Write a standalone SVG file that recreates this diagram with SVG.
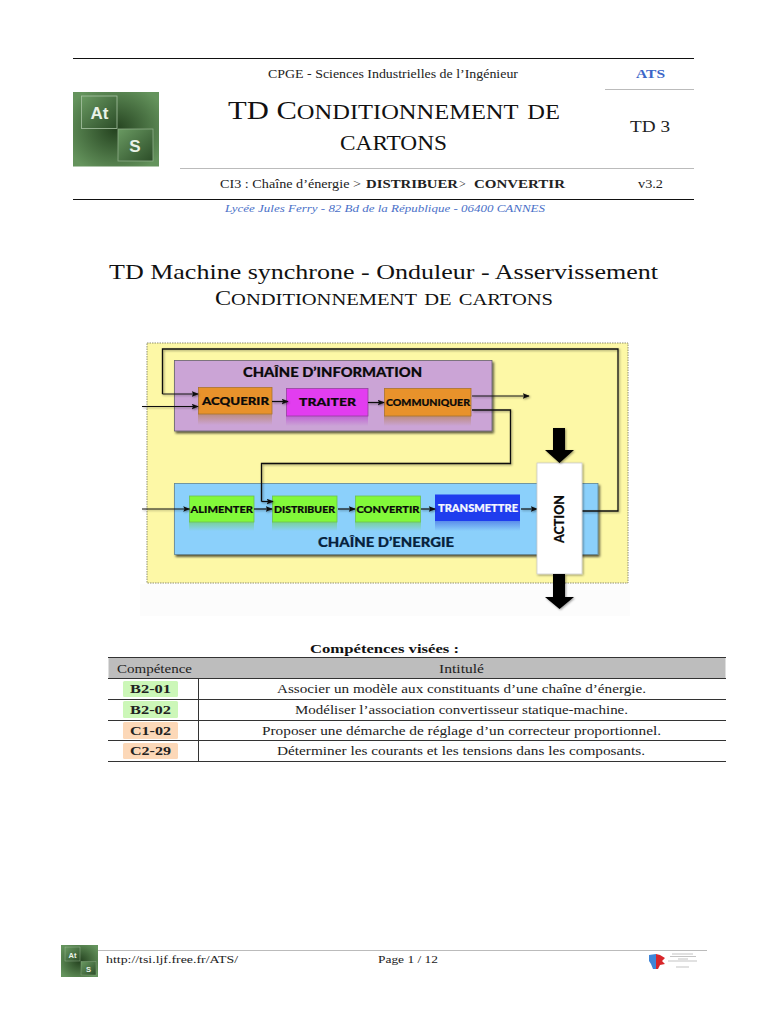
<svg xmlns="http://www.w3.org/2000/svg" width="768" height="1024" viewBox="0 0 768 1024">
<style>
.s{font-family:"Liberation Serif","Times New Roman",serif;fill:#222}
.sc{font-variant:small-caps}
.b{font-weight:bold}
.d{font-family:Lato,"Open Sans",sans-serif;font-weight:900;fill:#0a0a0a;stroke:#0a0a0a;stroke-width:.2}
.c{fill:none;stroke:#111;stroke-width:1.3}
.c2{fill:none;stroke:#111;stroke-width:1.2;marker-end:url(#a)}
.box{stroke-width:.8}
.rule{stroke:#111;stroke-width:1}
.grey{stroke:#bbb;stroke-width:1}
.row{stroke:#333;stroke-width:1}
</style>
<defs>
<marker id="a" viewBox="0 0 10 8" refX="9" refY="4" markerWidth="7" markerHeight="6" markerUnits="userSpaceOnUse" orient="auto"><path d="M0 0L10 4L0 8L2 4Z" fill="#111"/></marker>
<filter id="sh" x="-10%" y="-10%" width="125%" height="130%"><feDropShadow dx="1.5" dy="2" stdDeviation="1.2" flood-color="#000" flood-opacity=".65"/></filter>
<filter id="sh2" x="-20%" y="-20%" width="140%" height="140%"><feDropShadow dx="1" dy="1" stdDeviation="1.2" flood-color="#000" flood-opacity=".4"/></filter>
<radialGradient id="lg" cx=".5" cy=".5" r=".62"><stop offset="0" stop-color="#24421f"/><stop offset="1" stop-color="#64935c"/></radialGradient>
<linearGradient id="t1" x1="0" y1="0" x2="1" y2="1"><stop offset="0" stop-color="#6a9a62"/><stop offset="1" stop-color="#2c4d28"/></linearGradient>
<linearGradient id="ro" x1="0" y1="0" x2="0" y2="1"><stop offset="0" stop-color="#b5825a" stop-opacity=".7"/><stop offset="1" stop-color="#b5825a" stop-opacity="0"/></linearGradient>
<linearGradient id="rm" x1="0" y1="0" x2="0" y2="1"><stop offset="0" stop-color="#b63fd0" stop-opacity=".6"/><stop offset="1" stop-color="#b63fd0" stop-opacity="0"/></linearGradient>
<linearGradient id="rg" x1="0" y1="0" x2="0" y2="1"><stop offset="0" stop-color="#72d27c" stop-opacity=".8"/><stop offset="1" stop-color="#72d27c" stop-opacity="0"/></linearGradient>
<linearGradient id="rb" x1="0" y1="0" x2="0" y2="1"><stop offset="0" stop-color="#3a60e0" stop-opacity=".6"/><stop offset="1" stop-color="#3a60e0" stop-opacity="0"/></linearGradient>
</defs>
<rect width="768" height="1024" fill="#fff"/>

<g id="header">
<line class="rule" x1="73" y1="58.500" x2="694" y2="58.500"/>
<line class="rule" x1="73" y1="199.500" x2="694" y2="199.500"/>
<line class="grey" x1="180" y1="168.500" x2="694" y2="168.500"/>
<line class="grey" x1="605" y1="89.500" x2="694" y2="89.500"/>
<text class="s" x="268" y="78" font-size="12" textLength="250" lengthAdjust="spacingAndGlyphs">CPGE - Sciences Industrielles de l’Ingénieur</text>
<text class="s b" x="636" y="78" font-size="12" style="fill:#3b66c8" textLength="29" lengthAdjust="spacingAndGlyphs">ATS</text>
<text class="s sc" x="228" y="119" font-size="25" style="fill:#111" textLength="332" lengthAdjust="spacingAndGlyphs">TD C<tspan font-size="29">onditionnement de</tspan></text>
<text class="s sc" x="340" y="150" font-size="29" style="fill:#111" textLength="107" lengthAdjust="spacingAndGlyphs">cartons</text>
<text class="s" x="630" y="132" font-size="16.500" textLength="40" lengthAdjust="spacingAndGlyphs">TD 3</text>
<text class="s" x="220" y="188" font-size="12" textLength="141" lengthAdjust="spacingAndGlyphs">CI3 : Chaîne d’énergie &gt;</text>
<text class="s b" x="366" y="188" font-size="12" textLength="92" lengthAdjust="spacingAndGlyphs">DISTRIBUER</text>
<text class="s" x="459" y="188" font-size="12">&gt;</text>
<text class="s b" x="474" y="188" font-size="12" textLength="91" lengthAdjust="spacingAndGlyphs">CONVERTIR</text>
<text class="s" x="638" y="188" font-size="12" textLength="25" lengthAdjust="spacingAndGlyphs">v3.2</text>
<text class="s" x="225" y="212" font-size="10" font-style="italic" style="fill:#4a70c8" textLength="320" lengthAdjust="spacingAndGlyphs">Lycée Jules Ferry - 82 Bd de la République - 06400 CANNES</text>
</g>

<g id="logo">
<rect x="73" y="92" width="86" height="74.500" fill="url(#lg)"/>
<rect x="81.500" y="96" width="35.500" height="32.500" fill="url(#t1)" stroke="#a9c4a3" stroke-width=".8"/>
<rect x="118" y="129" width="35" height="32" fill="url(#t1)" stroke="#8fae89" stroke-width=".8"/>
<text x="99.500" y="119" font-family="Liberation Sans,sans-serif" font-weight="bold" font-size="17" fill="#eaf2e8" text-anchor="middle">At</text>
<text x="135" y="152" font-family="Liberation Sans,sans-serif" font-weight="bold" font-size="17" fill="#eaf2e8" text-anchor="middle">S</text>
</g>

<g id="title">
<text class="s" x="109" y="279" font-size="21" style="fill:#111" textLength="549" lengthAdjust="spacingAndGlyphs">TD Machine synchrone - Onduleur - Asservissement</text>
<text class="s sc" x="215" y="305" font-size="20" style="fill:#111" textLength="338" lengthAdjust="spacingAndGlyphs">C<tspan font-size="24">onditionnement de cartons</tspan></text>
</g>

<g id="fond">
<rect x="140" y="584" width="490" height="32" fill="#fcfcfc"/>
<rect x="147" y="343" width="481" height="240" fill="#fdf8a6" stroke="#8f8f70" stroke-width="1" stroke-dasharray="1.500 1"/>
</g>

<g id="chaine-information">
<rect class="box" x="174.500" y="360.500" width="317.500" height="70.500" fill="#cba4d6" stroke="#655f6f" filter="url(#sh)"/>
<text class="d" x="243" y="377" font-size="13" textLength="179" lengthAdjust="spacingAndGlyphs">CHAÎNE D’INFORMATION</text>
</g>
<g id="chaine-energie">
<rect class="box" x="174.500" y="483.500" width="423.500" height="71" fill="#8bd0fb" stroke="#5f8496" filter="url(#sh)"/>
<text class="d" x="318" y="547" font-size="13" style="fill:#06223c;stroke:#06223c" textLength="136" lengthAdjust="spacingAndGlyphs">CHAÎNE D’ENERGIE</text>
</g>

<g id="acquerir">
<rect x="198" y="414" width="74" height="11" fill="url(#ro)"/>
<rect class="box" x="198.500" y="387.500" width="73.500" height="26.500" fill="#e8922b" stroke="#a9742f"/>
<text class="d" x="202" y="405" font-size="11" textLength="67" lengthAdjust="spacingAndGlyphs">ACQUERIR</text>
</g>
<g id="traiter">
<rect x="286" y="416" width="82" height="10" fill="url(#rm)"/>
<rect class="box" x="286.500" y="388.500" width="81.500" height="27.500" fill="#e23df0" stroke="#96409e"/>
<text class="d" x="299" y="406" font-size="11.500" textLength="57" lengthAdjust="spacingAndGlyphs">TRAITER</text>
</g>
<g id="communiquer">
<rect x="384" y="416" width="87" height="10" fill="url(#ro)"/>
<rect class="box" x="384.500" y="388.500" width="86.500" height="27.500" fill="#e8922b" stroke="#a9742f"/>
<text class="d" x="386" y="406" font-size="9.500" textLength="84" lengthAdjust="spacingAndGlyphs">COMMUNIQUER</text>
</g>
<g id="alimenter">
<rect x="189" y="522" width="65" height="9" fill="url(#rg)"/>
<rect class="box" x="189.500" y="496" width="64.500" height="26" fill="#82f93a" stroke="#6cc050"/>
<text class="d" x="190.500" y="513" font-size="10" textLength="62.500" lengthAdjust="spacingAndGlyphs">ALIMENTER</text>
</g>
<g id="distribuer">
<rect x="272" y="522" width="65" height="9" fill="url(#rg)"/>
<rect class="box" x="272.500" y="496" width="64.500" height="26" fill="#82f93a" stroke="#6cc050"/>
<text class="d" x="274" y="513" font-size="9.500" textLength="61" lengthAdjust="spacingAndGlyphs">DISTRIBUER</text>
</g>
<g id="convertir">
<rect x="355" y="522" width="66" height="9" fill="url(#rg)"/>
<rect class="box" x="355.500" y="496" width="65" height="26" fill="#82f93a" stroke="#6cc050"/>
<text class="d" x="356.500" y="513" font-size="10" textLength="63" lengthAdjust="spacingAndGlyphs">CONVERTIR</text>
</g>
<g id="transmettre">
<rect x="435" y="521" width="85" height="10" fill="url(#rb)"/>
<rect x="435" y="494.500" width="85" height="26.500" fill="#1f3dee"/>
<text class="d" x="438" y="512" font-size="10.500" style="fill:#f4f6ff;stroke:#f4f6ff" textLength="80" lengthAdjust="spacingAndGlyphs">TRANSMETTRE</text>
</g>

<g id="connectors" filter="url(#sh2)">
<path class="c" d="M582 511H618V349H162.500V394"/>
<path class="c2" d="M162.500 394H198"/>
<path class="c2" d="M142 406.500H198"/>
<path class="c2" d="M272 401.500H288"/>
<path class="c2" d="M368 402.500H384"/>
<path class="c2" d="M472 396H529"/>
<path class="c" d="M472 410H510.500V463.500H261.500V501.500"/>
<path class="c2" d="M261.500 501.500H273"/>
<path class="c2" d="M142 509H189.500"/>
<path class="c2" d="M254 509H272"/>
<path class="c2" d="M338 509H355"/>
<path class="c2" d="M421 509H435"/>
<path class="c2" d="M521 509H537"/>
</g>

<g id="action">
<rect x="537" y="463" width="45" height="111" fill="#fff" stroke="#ccc" stroke-width=".8" filter="url(#sh2)"/>
<text class="d" transform="translate(564,543) rotate(-90)" font-size="13" textLength="48" lengthAdjust="spacingAndGlyphs">ACTION</text>
</g>
<g id="fleche-haut"><path d="M553 428H565V450H574L559.500 463L545 450H553Z" fill="#000" filter="url(#sh2)"/></g>
<g id="fleche-bas"><path d="M553 574H565V597H574L559.500 609L545 597H553Z" fill="#000" filter="url(#sh2)"/></g>

<g id="competences">
<text class="s b" x="310" y="653" font-size="12.500" style="fill:#111" textLength="149" lengthAdjust="spacingAndGlyphs">Compétences visées :</text>
<rect x="108.500" y="658" width="617" height="20.500" fill="#bdbdbd"/>
<line class="row" x1="108" y1="657.500" x2="726" y2="657.500"/>
<line class="row" x1="108" y1="678.500" x2="726" y2="678.500"/>
<line class="row" x1="108" y1="699.500" x2="726" y2="699.500"/>
<line class="row" x1="108" y1="720.500" x2="726" y2="720.500"/>
<line class="row" x1="108" y1="740.500" x2="726" y2="740.500"/>
<line class="row" x1="108" y1="761.500" x2="726" y2="761.500"/>
<line class="row" x1="198.500" y1="678" x2="198.500" y2="761"/>
<text class="s" x="117" y="673" font-size="12" textLength="75" lengthAdjust="spacingAndGlyphs">Compétence</text>
<text class="s" x="439" y="673" font-size="12" textLength="45" lengthAdjust="spacingAndGlyphs">Intitulé</text>
<rect x="123" y="681" width="55" height="16" rx="1.500" fill="#ccf7b8"/>
<rect x="123" y="701" width="55" height="17" rx="1.500" fill="#ccf7b8"/>
<rect x="123" y="722" width="55" height="17" rx="1.500" fill="#fcd8b8"/>
<rect x="123" y="743" width="55" height="16" rx="1.500" fill="#fcd8b8"/>
<text class="s b" x="130" y="693" font-size="12.500" textLength="41" lengthAdjust="spacingAndGlyphs">B2-01</text>
<text class="s b" x="130" y="714" font-size="12.500" textLength="41" lengthAdjust="spacingAndGlyphs">B2-02</text>
<text class="s b" x="130" y="735" font-size="12.500" textLength="41" lengthAdjust="spacingAndGlyphs">C1-02</text>
<text class="s b" x="130" y="755" font-size="12.500" textLength="41" lengthAdjust="spacingAndGlyphs">C2-29</text>
<text class="s" x="277" y="693" font-size="12" textLength="369" lengthAdjust="spacingAndGlyphs">Associer un modèle aux constituants d’une chaîne d’énergie.</text>
<text class="s" x="295" y="714" font-size="12" textLength="333" lengthAdjust="spacingAndGlyphs">Modéliser l’association convertisseur statique-machine.</text>
<text class="s" x="262" y="735" font-size="12" textLength="399" lengthAdjust="spacingAndGlyphs">Proposer une démarche de réglage d’un correcteur proportionnel.</text>
<text class="s" x="277" y="755" font-size="12" textLength="368" lengthAdjust="spacingAndGlyphs">Déterminer les courants et les tensions dans les composants.</text>
</g>

<g id="footer">
<line class="grey" x1="98" y1="950.500" x2="707" y2="950.500"/>
<rect x="61" y="945" width="37" height="32" fill="url(#lg)"/>
<rect x="65" y="947" width="15" height="14" fill="url(#t1)" stroke="#a9c4a3" stroke-width=".4"/>
<rect x="81" y="961.500" width="15" height="13.500" fill="url(#t1)" stroke="#8fae89" stroke-width=".4"/>
<text x="72.500" y="958" font-family="Liberation Sans,sans-serif" font-weight="bold" font-size="7.500" fill="#eaf2e8" text-anchor="middle">At</text>
<text x="88.500" y="972" font-family="Liberation Sans,sans-serif" font-weight="bold" font-size="7.500" fill="#eaf2e8" text-anchor="middle">S</text>
<text class="s" x="106" y="963" font-size="11" textLength="132" lengthAdjust="spacingAndGlyphs">http://tsi.ljf.free.fr/ATS/</text>
<text class="s" x="378" y="963" font-size="11" textLength="60" lengthAdjust="spacingAndGlyphs">Page 1 / 12</text>
<path d="M649 955L656 954V969H653L651 964L649 961Z" fill="#3f86d8"/>
<path d="M656 954L660 955L665 958L662 961L665 964L660 965L658 969H656Z" fill="#d8262a"/>
<g stroke="#aaa" stroke-width=".7"><line x1="672" y1="954" x2="693" y2="954"/><line x1="670" y1="956.500" x2="696" y2="956.500"/><line x1="678" y1="959" x2="688" y2="959"/><line x1="668" y1="961" x2="697" y2="961"/><line x1="676" y1="967" x2="689" y2="967"/></g>
</g>
</svg>
